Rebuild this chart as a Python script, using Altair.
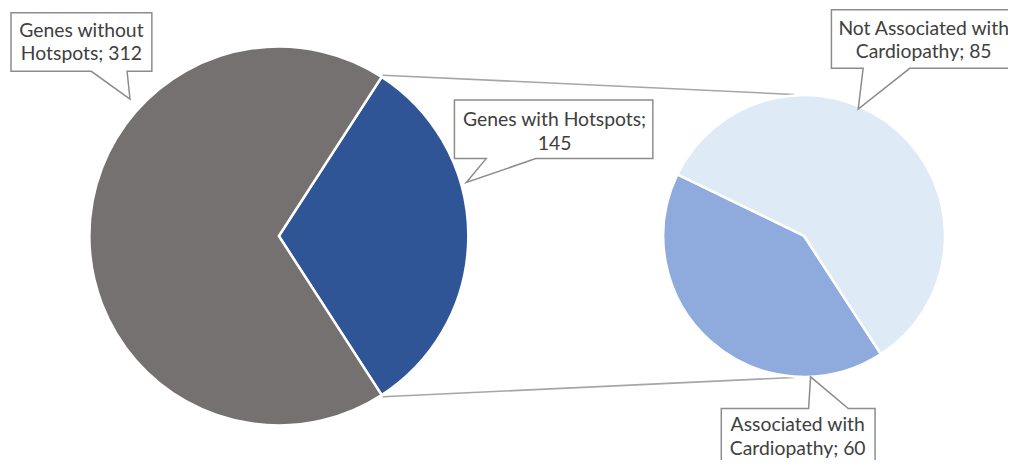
import math
import altair as alt
import pandas as pd

# ---------------- data ----------------
main_labels = ["Genes with Hotspots", "Genes without Hotspots"]
main_values = [145, 312]
sub_labels = ["Associated with Cardiopathy", "Not Associated with Cardiopathy"]
sub_values = [60, 85]

# ---------------- styles ----------------
main_colors = ["#2F5597", "#767171"]
sub_colors = ["#8FAADC", "#DEEAF6"]
TEXT_COLOR = "#404040"
BOX_STROKE = "#8C8C8C"
LINE_COLOR = "#A6A6A6"
FONT = "Lato"

# ---------------- layout (page pixels) ----------------
OFF = 8
W, H = 1008, 452
MAIN_C = (281, 236)
MAIN_R = 191
SUB_C = (810.5, 236)
SUB_R = 142
SUB_START_DEG = 147.0  # angle where the first secondary slice starts

main_total = sum(main_values)
sub_total = sum(sub_values)
main_start = math.pi / 2 - math.pi * main_values[0] / main_total
main_end = main_start + 2 * math.pi * main_values[0] / main_total
sub_start = math.radians(SUB_START_DEG)


def polar(c, r, a):
    return c[0] + r * math.sin(a), c[1] - r * math.cos(a)


# connector lines from the split points of the main pie to the secondary pie
p_top = polar(MAIN_C, MAIN_R + 2, main_start)
p_bot = polar(MAIN_C, MAIN_R + 2, main_end)
q_top = polar(SUB_C, SUB_R + 1, math.radians(-4))
q_bot = polar(SUB_C, SUB_R + 1, math.radians(184))
conn_df = pd.DataFrame({
    "x": [p_top[0], p_bot[0]], "y": [p_top[1], p_bot[1]],
    "x2": [q_top[0], q_bot[0]], "y2": [q_top[1], q_bot[1]],
})

# callouts: box (x0, y0, x1, y1), pointer (base_a, tip, base_b), first-line text center
labels_text = [
    f"Genes without\nHotspots; {main_values[1]}",
    f"Genes with Hotspots;\n{main_values[0]}",
    f"Not Associated with\nCardiopathy; {sub_values[1]}",
    f"Associated with\nCardiopathy; {sub_values[0]}",
]
boxes = [(11, 11, 153, 70), (458, 99, 658, 158), (838, 8, 1040, 67), (727, 410, 882, 490)]
pointers = [
    ("bottom", 92, (131, 98), 128),
    ("bottom", 490, (470, 182), 540),
    ("bottom", 870, (865, 108), 917),
    ("top", 815, (817, 378), 855),
]
text_pos = [(82, 29), (559, 119), (931, 27), (804, 427)]


def callout_path(box, ptr):
    x0, y0, x1, y1 = box
    side, a, tip, b = ptr
    if side == "bottom":
        pts = [(x0, y0), (x1, y0), (x1, y1), (b, y1), tip, (a, y1), (x0, y1)]
    else:
        pts = [(x0, y0), (a, y0), tip, (b, y0), (x1, y0), (x1, y1), (x0, y1)]
    return "M" + " L".join(f"{px - x0:.1f},{py - y0:.1f}" for px, py in pts) + " Z"


call_df = pd.DataFrame({
    "ax": [b[0] for b in boxes],
    "ay": [b[1] for b in boxes],
    "path": [callout_path(b, p) for b, p in zip(boxes, pointers)],
    "tx": [t[0] for t in text_pos],
    "ty": [t[1] for t in text_pos],
    "text": labels_text,
})

xs = alt.Scale(domain=[OFF, OFF + W], nice=False, zero=False)
ys = alt.Scale(domain=[OFF, OFF + H], nice=False, zero=False, reverse=True)

connectors = alt.Chart(conn_df).mark_rule(color=LINE_COLOR, strokeWidth=1.6).encode(
    x=alt.X("x:Q", scale=xs, axis=None),
    y=alt.Y("y:Q", scale=ys, axis=None),
    x2="x2:Q",
    y2="y2:Q",
)

main_df = pd.DataFrame({"label": main_labels, "value": main_values,
                        "color": main_colors, "order": [0, 1]})
main_pie = alt.Chart(main_df).mark_arc(
    radius=MAIN_R, stroke="white", strokeWidth=2.5,
    x=MAIN_C[0] - OFF, y=MAIN_C[1] - OFF,
).encode(
    theta=alt.Theta("value:Q", stack=True,
                    scale=alt.Scale(domain=[0, main_total],
                                    range=[main_start, main_start + 2 * math.pi])),
    color=alt.Color("color:N", scale=None),
    order=alt.Order("order:Q"),
)

sub_df = pd.DataFrame({"label": sub_labels, "value": sub_values,
                       "color": sub_colors, "order": [0, 1]})
sub_pie = alt.Chart(sub_df).mark_arc(
    radius=SUB_R, stroke="white", strokeWidth=2.5,
    x=SUB_C[0] - OFF, y=SUB_C[1] - OFF,
).encode(
    theta=alt.Theta("value:Q", stack=True,
                    scale=alt.Scale(domain=[0, sub_total],
                                    range=[sub_start, sub_start + 2 * math.pi])),
    color=alt.Color("color:N", scale=None),
    order=alt.Order("order:Q"),
)

callouts = alt.Chart(call_df).mark_point(
    filled=True, fill="white", stroke=BOX_STROKE, strokeWidth=1.5,
    opacity=1, size=4, strokeJoin="miter",
).encode(
    x=alt.X("ax:Q", scale=xs, axis=None),
    y=alt.Y("ay:Q", scale=ys, axis=None),
    shape=alt.Shape("path:N", scale=None),
)

texts = alt.Chart(call_df).mark_text(
    font=FONT, fontSize=19.5, color=TEXT_COLOR, lineBreak="\n",
    lineHeight=24, align="center", baseline="middle",
).encode(
    x=alt.X("tx:Q", scale=xs, axis=None),
    y=alt.Y("ty:Q", scale=ys, axis=None),
    text="text:N",
)

chart = alt.layer(connectors, main_pie, sub_pie, callouts, texts).resolve_scale(
    theta="independent"
).properties(
    width=W, height=H,
    autosize=alt.AutoSizeParams(type="none"),
    padding=0,
).configure_view(strokeWidth=0)

chart.save("out.html", embed_options={"renderer": "svg", "actions": False})
